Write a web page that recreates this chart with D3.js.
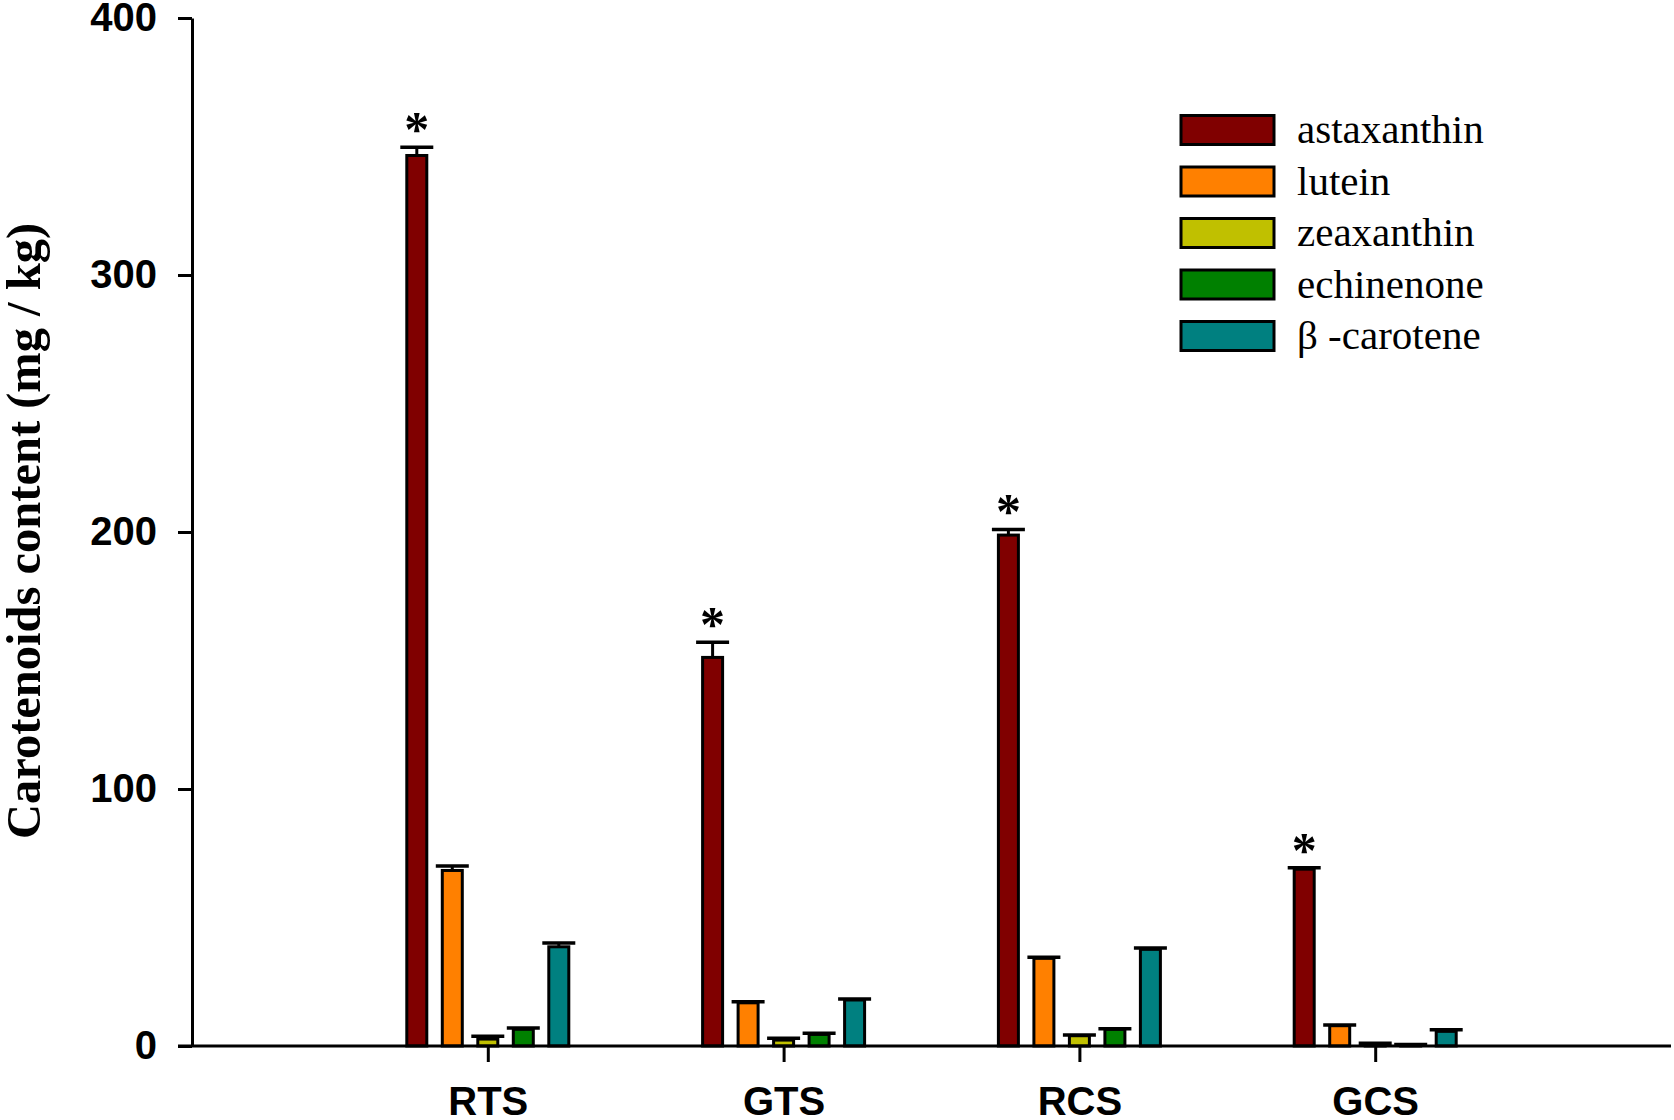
<!DOCTYPE html>
<html>
<head>
<meta charset="utf-8">
<script src="https://cdn.jsdelivr.net/npm/d3@7"></script>
<style>
  body { margin: 0; background: #fff; }
  svg { display: block; }
</style>
</head>
<body>
<div id="chart"></div>
<script>
// groups on the x axis
const categories = ["RTS", "GTS", "RCS", "GCS"];
const seriesNames = ["astaxanthin", "lutein", "zeaxanthin", "echinenone", "β -carotene"];
const seriesColors = ["#800000", "#ff8000", "#c0c000", "#008000", "#008080"];

// mean values (mg / kg)
const astaxanthin = [346.5, 151.2, 198.8, 68.8];
const lutein = [68.3, 16.8, 34.1, 7.9];
const zeaxanthin = [2.7, 2.3, 4.0, 0.8];
const echinenone = [6.5, 4.5, 6.5, 0.5];
const betaCarotene = [38.6, 17.9, 37.6, 5.7];

// upper error (mg / kg)
const astaxanthinErr = [3.2, 5.9, 2.2, 0.6];
const luteinErr = [1.7, 0.4, 0.4, 0.3];
const zeaxanthinErr = [1.1, 0.7, 0.3, 0.3];
const echinenoneErr = [0.5, 0.5, 0.2, 0.1];
const betaCaroteneErr = [1.5, 0.4, 0.5, 0.6];

// significance marks (only astaxanthin has them)
const astaxanthinSig = [true, true, true, true];

const yTicks = [0, 100, 200, 300, 400];

const values = [astaxanthin, lutein, zeaxanthin, echinenone, betaCarotene];
const errors = [astaxanthinErr, luteinErr, zeaxanthinErr, echinenoneErr, betaCaroteneErr];
const marks = [astaxanthinSig, null, null, null, null];

const W = 1674, H = 1120;
const plotLeft = 192, plotRight = 1671, plotTop = 18, plotBottom = 1046;

const svg = d3.select("#chart").append("svg")
    .attr("width", W)
    .attr("height", H);

const x = d3.scalePoint().domain(categories).range([plotLeft, plotRight]).padding(1);
const x1 = d3.scaleBand().domain(seriesNames).range([-88.75, 88.75]).padding(0);
const y = d3.scaleLinear().domain([0, 400]).range([plotBottom, plotTop]);
const color = d3.scaleOrdinal().domain(seriesNames).range(seriesColors);
const barW = 20;

// flatten into one row per bar
const rows = [];
categories.forEach((c, ci) => {
    seriesNames.forEach((s, si) => {
        rows.push({ cat: c, series: s, value: values[si][ci], err: errors[si][ci], sig: marks[si] ? marks[si][ci] : false });
    });
});

const cx = d => x(d.cat) + x1(d.series) + x1.bandwidth() / 2;

// bars
svg.append("g").selectAll("rect")
    .data(rows)
    .join("rect")
    .attr("x", d => cx(d) - barW / 2)
    .attr("y", d => y(d.value))
    .attr("width", barW)
    .attr("height", d => y(0) - y(d.value))
    .attr("fill", d => color(d.series))
    .attr("stroke", "#000")
    .attr("stroke-width", 3);

// error bars, upper half only
const eb = svg.append("g").attr("stroke", "#000");
eb.selectAll("line.whisker")
    .data(rows)
    .join("line")
    .attr("class", "whisker")
    .attr("x1", cx).attr("x2", cx)
    .attr("y1", d => y(d.value))
    .attr("y2", d => y(d.value + d.err))
    .attr("stroke-width", 3);
eb.selectAll("line.cap")
    .data(rows)
    .join("line")
    .attr("class", "cap")
    .attr("x1", d => cx(d) - 16.5).attr("x2", d => cx(d) + 16.5)
    .attr("y1", d => y(d.value + d.err))
    .attr("y2", d => y(d.value + d.err))
    .attr("stroke-width", 3.5);

// asterisks
svg.append("g").selectAll("text")
    .data(rows.filter(d => d.sig))
    .join("text")
    .attr("x", cx)
    .attr("y", d => y(d.value + d.err) - 1)
    .attr("text-anchor", "middle")
    .style("font-family", "'Liberation Serif', 'Times New Roman', serif")
    .style("font-weight", "bold")
    .style("font-size", "50px")
    .text("*");

// y axis
const yAxis = svg.append("g")
    .attr("transform", `translate(${plotLeft},0)`)
    .call(d3.axisLeft(y).tickValues(yTicks).tickSize(14).tickSizeOuter(0).tickPadding(21));

// x axis
const xAxis = svg.append("g")
    .attr("transform", `translate(0,${plotBottom})`)
    .call(d3.axisBottom(x).tickSize(16).tickSizeOuter(0).tickPadding(25));
xAxis.select(".domain").attr("d", `M${plotLeft - 14},0H${plotRight}`);

[yAxis, xAxis].forEach(g => {
    g.selectAll("path, line").attr("stroke", "#000").attr("stroke-width", 3);
    g.selectAll("text")
        .attr("fill", "#000")
        .style("font-family", "'Liberation Sans', Arial, sans-serif")
        .style("font-weight", "bold")
        .style("font-size", "40px");
});

// y title
svg.append("text")
    .attr("transform", `translate(40,531) rotate(-90)`)
    .attr("text-anchor", "middle")
    .style("font-family", "'Liberation Serif', 'Times New Roman', serif")
    .style("font-weight", "bold")
    .style("font-size", "48.5px")
    .text("Carotenoids content (mg / kg)");

// legend
const legend = svg.append("g").selectAll("g")
    .data(seriesNames)
    .join("g")
    .attr("transform", (d, i) => `translate(1181,${130 + i * 51.5})`);
legend.append("rect")
    .attr("x", 0).attr("y", -14.5)
    .attr("width", 93).attr("height", 29)
    .attr("fill", d => color(d))
    .attr("stroke", "#000")
    .attr("stroke-width", 3);
legend.append("text")
    .attr("x", 116).attr("y", 13)
    .style("font-family", "'Liberation Serif', 'Times New Roman', serif")
    .style("font-size", "41px")
    .text(d => d);
</script>
</body>
</html>
